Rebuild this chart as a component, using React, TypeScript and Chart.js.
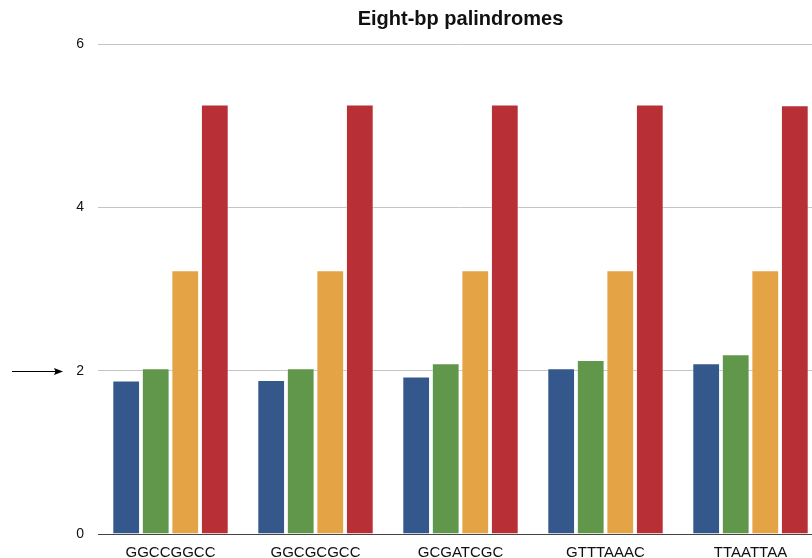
import React, { useEffect, useRef } from "react";
import { Chart, registerables } from "chart.js";

Chart.register(...registerables);

const categories = ["GGCCGGCC", "GGCGCGCC", "GCGATCGC", "GTTTAAAC", "TTAATTAA"];
const series1 = [1.88, 1.885, 1.93, 2.03, 2.09];
const series2 = [2.03, 2.03, 2.09, 2.13, 2.2];
const series3 = [3.23, 3.23, 3.23, 3.23, 3.23];
const series4 = [5.26, 5.26, 5.26, 5.26, 5.25];
const yTicks = [0, 2, 4, 6];
const titleText = "Eight-bp palindromes";
const arrowValue = 2;

const FONT = "'Liberation Sans', Arial, Helvetica, sans-serif";

const titlePlugin = {
  id: "areaTitle",
  afterDraw(chart: any) {
    const ctx = chart.ctx;
    const a = chart.chartArea;
    ctx.save();
    ctx.fillStyle = "#111";
    ctx.font = "bold 20px " + FONT;
    ctx.textAlign = "center";
    ctx.textBaseline = "alphabetic";
    ctx.fillText(titleText, (a.left + a.right) / 2, 24.5);
    ctx.restore();
  },
};

const arrowPlugin = {
  id: "arrowPlugin",
  afterDraw(chart: any) {
    const ctx = chart.ctx;
    const y = Math.round(chart.scales.y.getPixelForValue(arrowValue)) + 0.5;
    ctx.save();
    ctx.strokeStyle = "#000";
    ctx.fillStyle = "#000";
    ctx.lineWidth = 1.2;
    ctx.beginPath();
    ctx.moveTo(12, y);
    ctx.lineTo(58, y);
    ctx.stroke();
    ctx.beginPath();
    ctx.moveTo(63, y);
    ctx.lineTo(54, y - 3.5);
    ctx.lineTo(55.5, y);
    ctx.lineTo(54, y + 3.5);
    ctx.closePath();
    ctx.fill();
    ctx.restore();
  },
};

export default function App() {
  const ref = useRef<HTMLCanvasElement | null>(null);
  useEffect(() => {
    if (!ref.current) return;
    const mk = (label: string, data: number[], color: string) => ({
      label,
      data,
      backgroundColor: color,
      borderColor: "rgba(255,255,255,0.45)",
      borderWidth: 1,
      barPercentage: 0.94,
      categoryPercentage: 0.815,
    });
    const chart = new Chart(ref.current, {
      type: "bar",
      data: {
        labels: categories,
        datasets: [
          mk("A", series1, "#34588B"),
          mk("B", series2, "#61974B"),
          mk("C", series3, "#E4A344"),
          mk("D", series4, "#B82F35"),
        ],
      },
      options: {
        animation: false,
        responsive: false,
        devicePixelRatio: 1,
        layout: { padding: { left: 0, right: 0, top: 44, bottom: 0 } },
        plugins: {
          legend: { display: false },
          tooltip: { enabled: false },
          title: { display: false },
        },
        scales: {
          x: {
            grid: { display: false, drawTicks: false },
            border: { display: true, color: "#444", width: 1 },
            ticks: {
              color: "#111",
              font: { family: FONT, size: 15 },
              padding: 10,
              maxRotation: 0,
              autoSkip: false,
            },
            afterFit: (s: any) => {
              s.height = 24;
            },
          },
          y: {
            min: 0,
            max: 6,
            afterBuildTicks: (s: any) => {
              s.ticks = yTicks.map((v) => ({ value: v }));
            },
            grid: {
              drawTicks: false,
              color: (c: any) => (c.tick && c.tick.value === 0 ? "rgba(0,0,0,0)" : "#c4c4c4"),
            },
            border: { display: false },
            ticks: {
              color: "#111",
              font: { family: FONT, size: 14 },
              padding: 14,
            },
            afterFit: (s: any) => {
              s.width = 98;
            },
          },
        },
      },
      plugins: [titlePlugin, arrowPlugin],
    });
    return () => chart.destroy();
  }, []);
  return (
    <div
      style={{
        position: "absolute",
        left: 0,
        top: 0,
        width: 812,
        height: 558,
        overflow: "hidden",
        background: "#fff",
      }}
    >
      <canvas ref={ref} width={823} height={558} style={{ display: "block", width: 823, height: 558 }} />
    </div>
  );
}
